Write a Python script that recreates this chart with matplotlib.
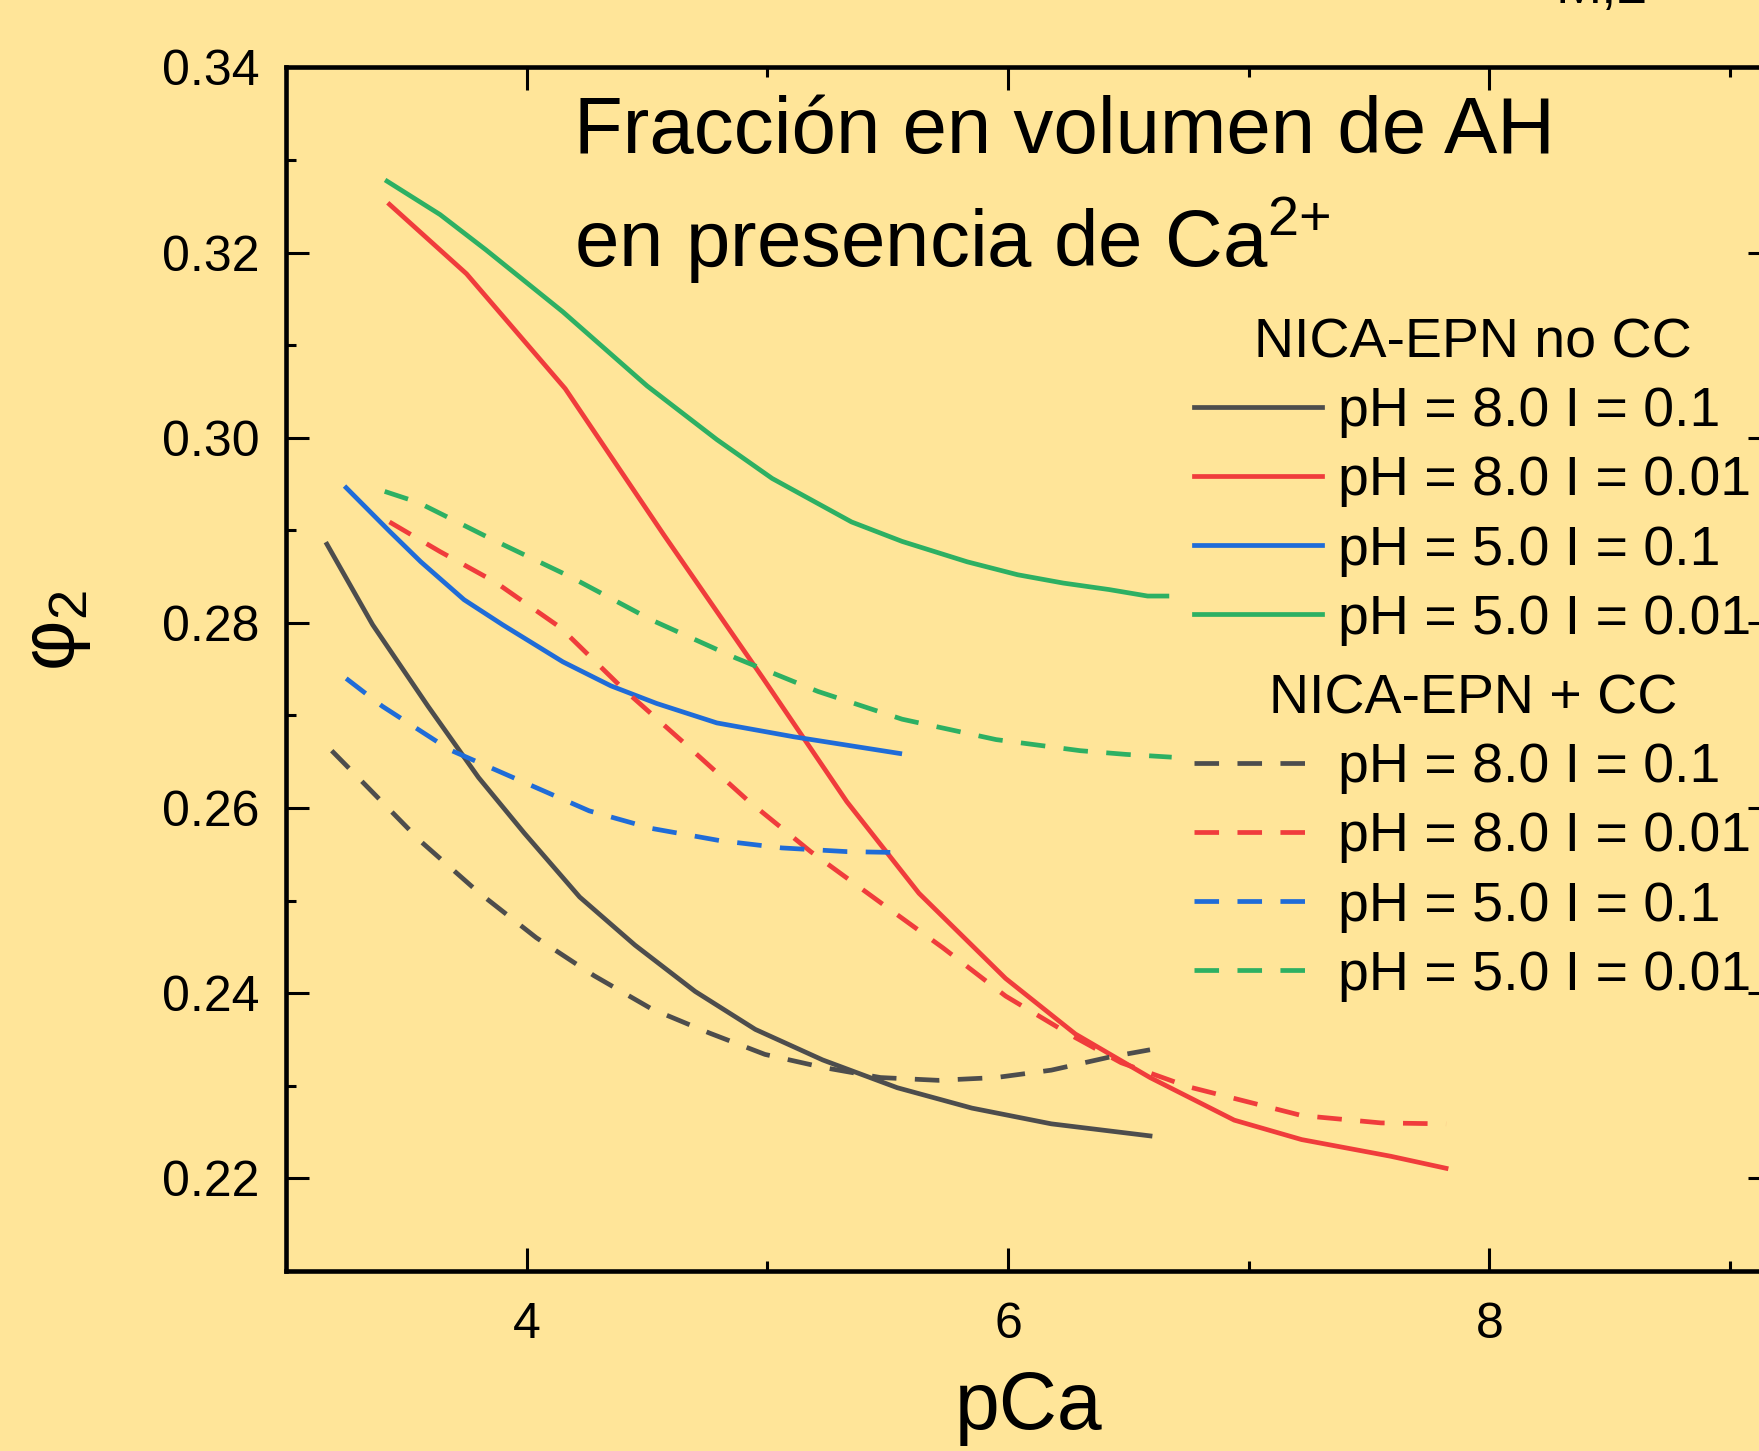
import matplotlib
matplotlib.use("Agg")
import matplotlib.pyplot as plt
from matplotlib.ticker import MultipleLocator, FormatStrFormatter

# datos (pCa, phi_2)
gray_solid_x = [3.17, 3.36, 3.59, 3.80, 3.99, 4.22, 4.45, 4.70, 4.95, 5.23, 5.54, 5.85, 6.18, 6.59]
gray_solid_y = [0.2885, 0.2798, 0.2710, 0.2633, 0.2573, 0.2504, 0.2452, 0.2402, 0.2361, 0.2328, 0.2298, 0.2276, 0.2259, 0.2246]

red_solid_x = [3.43, 3.75, 4.16, 4.57, 4.98, 5.33, 5.63, 5.99, 6.28, 6.59, 6.94, 7.22, 7.59, 7.82]
red_solid_y = [0.3252, 0.3177, 0.3053, 0.2895, 0.2741, 0.2607, 0.2508, 0.2416, 0.2356, 0.2309, 0.2263, 0.2242, 0.2224, 0.2211]

blue_solid_x = [3.25, 3.43, 3.56, 3.74, 3.90, 4.15, 4.35, 4.54, 4.79, 5.11, 5.55]
blue_solid_y = [0.2946, 0.2899, 0.2866, 0.2825, 0.2798, 0.2758, 0.2732, 0.2713, 0.2692, 0.2677, 0.2659]

green_solid_x = [3.42, 3.64, 3.83, 4.15, 4.50, 4.79, 5.02, 5.35, 5.56, 5.83, 6.04, 6.23, 6.42, 6.58, 6.66]
green_solid_y = [0.3277, 0.3241, 0.3203, 0.3136, 0.3056, 0.2998, 0.2956, 0.2909, 0.2888, 0.2866, 0.2852, 0.2843, 0.2836, 0.2829, 0.2829]

gray_dash_x = [3.19, 3.33, 3.56, 3.80, 4.04, 4.28, 4.52, 4.76, 4.99, 5.23, 5.47, 5.71, 5.95, 6.18, 6.42, 6.59]
gray_dash_y = [0.2662, 0.2625, 0.2564, 0.2509, 0.2460, 0.2419, 0.2383, 0.2357, 0.2334, 0.2320, 0.2309, 0.2306, 0.2309, 0.2317, 0.2331, 0.2339]

red_dash_x = [3.43, 3.64, 3.87, 4.14, 4.40, 4.66, 4.92, 5.18, 5.47, 5.73, 5.99, 6.26, 6.47, 6.75, 7.22, 7.55, 7.82]
red_dash_y = [0.2909, 0.2877, 0.2844, 0.2795, 0.2729, 0.2669, 0.2608, 0.2553, 0.2498, 0.2449, 0.2397, 0.2355, 0.2325, 0.2299, 0.2268, 0.2260, 0.2259]

blue_dash_x = [3.25, 3.40, 3.68, 3.97, 4.26, 4.52, 4.80, 5.06, 5.33, 5.55]
blue_dash_y = [0.2740, 0.2710, 0.2663, 0.2630, 0.2597, 0.2578, 0.2565, 0.2557, 0.2553, 0.2552]

green_dash_x = [3.41, 3.55, 3.85, 4.18, 4.52, 4.87, 5.21, 5.56, 5.95, 6.30, 6.49, 6.68]
green_dash_y = [0.2942, 0.2930, 0.2891, 0.2850, 0.2803, 0.2762, 0.2726, 0.2696, 0.2674, 0.2662, 0.2658, 0.2655]

labels = ["pH = 8.0 I = 0.1", "pH = 8.0 I = 0.01", "pH = 5.0 I = 0.1", "pH = 5.0 I = 0.01"]
colors = ["#4d4d4d", "#f03c3c", "#1f6cd8", "#2db063"]
bg = "#ffe599"

plt.rcParams["font.family"] = ["Liberation Sans", "DejaVu Sans"]
plt.rcParams["mathtext.fontset"] = "custom"
plt.rcParams["mathtext.rm"] = "Liberation Sans"

fig = plt.figure(figsize=(17.59, 14.51), dpi=100, facecolor=bg)
ax = fig.add_axes([0.1626, 0.124, 0.8442, 0.8296])
ax.set_facecolor(bg)

lw = 3.4
dash = (5.2, 3.9)
solid_sets = [(gray_solid_x, gray_solid_y), (red_solid_x, red_solid_y),
              (blue_solid_x, blue_solid_y), (green_solid_x, green_solid_y)]
dash_sets = [(gray_dash_x, gray_dash_y), (red_dash_x, red_dash_y),
             (blue_dash_x, blue_dash_y), (green_dash_x, green_dash_y)]

solid_lines = []
for (x, y), c in zip(solid_sets, colors):
    l, = ax.plot(x, y, color=c, lw=lw)
    solid_lines.append(l)
dash_lines = []
for (x, y), c in zip(dash_sets, colors):
    l, = ax.plot(x, y, color=c, lw=lw, dashes=dash)
    dash_lines.append(l)

ax.set_xlim(3, 9.17)
ax.set_ylim(0.21, 0.34)
ax.xaxis.set_major_locator(MultipleLocator(2))
ax.xaxis.set_minor_locator(MultipleLocator(1))
ax.yaxis.set_major_locator(MultipleLocator(0.02))
ax.yaxis.set_minor_locator(MultipleLocator(0.01))
ax.yaxis.set_major_formatter(FormatStrFormatter("%.2f"))
ax.tick_params(which="both", direction="in", top=True, right=True, width=2.2,
               labelsize=36, pad=19)
ax.tick_params(axis="x", which="both", pad=22)
ax.tick_params(which="major", length=16.5)
ax.tick_params(which="minor", length=7.5)
for s in ax.spines.values():
    s.set_linewidth(3.3)

ax.set_xlabel("pCa", fontsize=58, labelpad=16)
ax.set_ylabel(r"φ$_\mathregular{2}$", fontsize=56)
ax.yaxis.set_label_coords(-0.13, 0.532)

fig.text(574 / 1759, 1 - 95 / 1451,
         "Fracción en volumen de AH\nen presencia de Ca$^{2{+}}$",
         fontsize=57.5, va="top", ha="left", linespacing=1.34)

common = dict(loc="upper left", frameon=False, fontsize=40, title_fontsize=40,
              handlelength=2.3, handletextpad=0.3, labelspacing=0.31,
              borderpad=0, borderaxespad=0)
fig.legend(solid_lines, labels, title="NICA-EPN no CC",
           bbox_to_anchor=(1194 / 1759, 1 - 317 / 1451), **common)
fig.legend(dash_lines, labels, title="NICA-EPN + CC",
           bbox_to_anchor=(1194 / 1759, 1 - 673 / 1451), **common)

# resto del rotulo del panel vecino, cortado arriba
fig.text(1555 / 1759, 1 - 3 / 1451, "M,2", fontsize=40, va="baseline")

fig.savefig("out.png", dpi=100, facecolor=bg)
